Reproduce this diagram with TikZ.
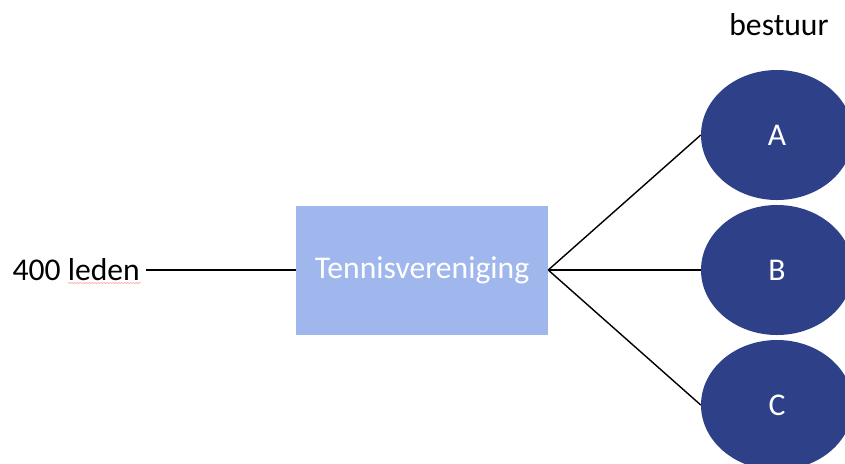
\documentclass[tikz,border=0pt]{standalone}
\usepackage{fontspec}
\setmainfont{Carlito}
\usetikzlibrary{shapes.geometric, decorations.pathmorphing}
\definecolor{boxblue}{RGB}{160,183,238}
\definecolor{navy}{RGB}{46,64,135}

\tikzset{
  vereniging/.style={rectangle, fill=boxblue, text=white, inner sep=0pt,
    minimum width=7.56cm, minimum height=3.87cm},
  lid/.style={ellipse, fill=navy, text=white, inner sep=0pt,
    minimum width=4.56cm, minimum height=3.9cm},
  lijn/.style={line width=1.2pt, black}
}

\begin{document}
\begin{tikzpicture}[x=0.03cm, y=-0.03cm, font=\fontsize{27}{32}\selectfont]
\useasboundingbox (0,0) rectangle (845,463);
\clip (0,0) rectangle (845,463);
\node[anchor=east, inner xsep=0.18cm, inner ysep=0pt] at (146,270) (leden) {400 leden};
\node[vereniging] at (422,270) (club) {Tennisvereniging};
\node at (779,25) (bestuur) {bestuur};
\node[lid] at (777,135) (A) {A};
\node[lid] at (777,270) (B) {B};
\node[lid] at (777,405) (C) {C};
% spelling mark
\draw[red!55, line width=0.4pt, decorate,
  decoration={snake, amplitude=0.35pt, segment length=2.5pt}] (68,283) -- (141,283);
\path (leden) edge[lijn] (club);
\path (club.east) edge[lijn] (A.west);
\path (club.east) edge[lijn] (B.west);
\path (club.east) edge[lijn] (C.west);
\end{tikzpicture}
\end{document}
